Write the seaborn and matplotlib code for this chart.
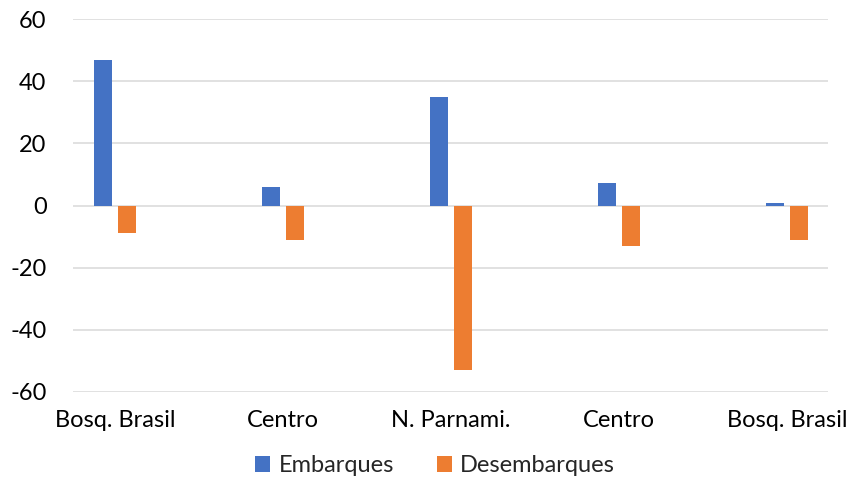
import matplotlib
matplotlib.use("Agg")
import matplotlib.pyplot as plt
import seaborn as sns
import pandas as pd
from matplotlib.patches import Patch

# Stops along the route (in travel order) and passenger changes per stop
paradas = ["Bosq. Brasil", "Centro", "N. Parnami.", "Centro", "Bosq. Brasil"]
embarques = [46.8, 6.0, 35.0, 7.1, 0.65]
desembarques = [-8.7, -11.0, -52.8, -12.9, -11.1]
series = ["Embarques", "Desembarques"]
colores = ["#4472C4", "#ED7D31"]
y_ticks = [-60, -40, -20, 0, 20, 40, 60]

n = len(paradas)
df = pd.DataFrame({
    "orden": list(range(n)) * 2,
    "serie": [series[0]] * n + [series[1]] * n,
    "valor": embarques + desembarques,
})

sns.set_theme(style="white")
plt.rcParams["font.family"] = ["Lato", "DejaVu Sans"]

fig = plt.figure(figsize=(8.52, 4.83), dpi=100)
ax = fig.add_axes([73 / 852, 1 - 392 / 483, 755 / 852, 373 / 483])

sns.barplot(data=df, x="orden", y="valor", hue="serie", order=list(range(n)),
            hue_order=series, palette=colores, width=0.29, gap=0.24,
            saturation=1, ax=ax, legend=False, linewidth=0)

ax.set_xlim(-0.25, 4.244)
ax.set_ylim(-60, 60)
ax.set_yticks(y_ticks)
ax.set_yticklabels([str(t) for t in y_ticks])
ax.set_xticks(range(n))
ax.set_xticklabels(paradas)
ax.set_xlabel("")
ax.set_ylabel("")

ax.yaxis.grid(True, color="#D9D9D9", linewidth=1.1)
ax.set_axisbelow(True)
for s in ax.spines.values():
    s.set_visible(False)
ax.tick_params(axis="y", length=0, pad=19, labelsize=17, labelcolor="black")
ax.tick_params(axis="x", length=0, pad=13, labelsize=17, labelcolor="black")

handles = [Patch(facecolor=c, edgecolor="none") for c in colores]
fig.legend(handles, series, loc="center", bbox_to_anchor=(435 / 852, 1 - 466 / 483),
           ncol=2, frameon=False, fontsize=17, handlelength=0.65, handleheight=0.65,
           handletextpad=0.35, columnspacing=1.8)

fig.savefig("out.png", dpi=100)
